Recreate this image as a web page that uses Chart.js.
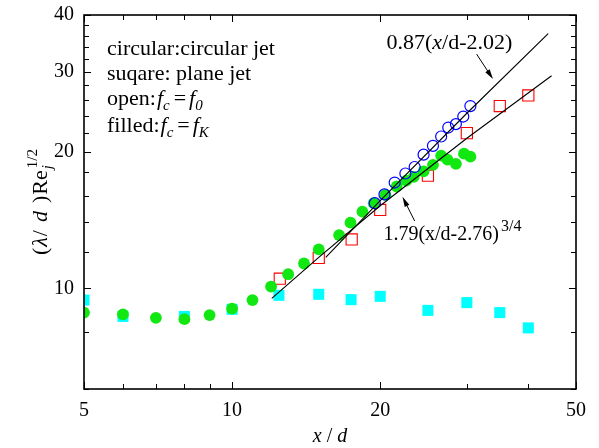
<!DOCTYPE html>
<html>
<head>
<meta charset="utf-8">
<script src="https://cdn.jsdelivr.net/npm/chart.js@4.4.0/dist/chart.umd.min.js"></script>
<style>
  html, body { margin: 0; padding: 0; background: #fff; }
</style>
</head>
<body>
<canvas id="c" width="599" height="448"></canvas>
<script>
// plane jet, f_c = f_K  (filled squares)
const planeKX = [5, 6, 8, 10, 12.45, 15, 17.45, 20, 25, 30, 35, 40];
const planeKY = [9.42, 8.67, 8.67, 8.99, 9.65, 9.70, 9.44, 9.60, 8.94, 9.30, 8.84, 8.18];
// plane jet, f_c = f_0  (open squares)
const plane0X = [12.5, 15, 17.5, 20, 25, 30, 35, 40];
const plane0Y = [10.5, 11.67, 12.81, 14.88, 17.7, 21.97, 25.2, 26.6];
// circular jet, f_c = f_K  (filled circles)
const circKX = [5, 6, 7, 8, 9, 10, 11, 12, 13, 14, 15, 16.5, 17.4, 18.4, 19.4, 20.5, 21.6, 22.6, 23.4, 24.5, 25.6, 26.6, 27.4, 28.5, 29.6, 30.5];
const circKY = [8.84, 8.76, 8.61, 8.55, 8.73, 9.02, 9.42, 10.09, 10.74, 11.34, 12.18, 13.1, 13.95, 14.75, 15.4, 16.06, 16.76, 17.26, 17.6, 18.1, 18.7, 19.6, 19.2, 18.8, 19.8, 19.5];
// circular jet, f_c = f_0  (open circles)
const circ0X = [19.5, 20.4, 21.4, 22.5, 23.5, 24.5, 25.6, 26.6, 27.5, 28.5, 29.5, 30.5];
const circ0Y = [15.4, 16.1, 17.1, 17.9, 18.5, 19.7, 20.6, 21.6, 22.6, 23.0, 23.9, 25.2];
// fit lines
const fitAX = [15.5, 20, 30, 43.9];
const fitAY = [11.7, 15.6, 24.3, 36.4];
const fitBX = [12.04, 15, 20, 30, 44.6];
const fitBY = [9.5, 11.7, 15.2, 21.4, 29.4];

const xTicks = [5, 6, 7, 8, 9, 10, 20, 30, 40, 50];
const xLabels = [5, 10, 20, 50];
const yTicks = [6, 8, 10, 12, 14, 16, 18, 20, 22, 24, 26, 28, 30, 32, 34, 36, 38, 40];
const yLabels = [10, 20, 30, 40];

const SERIF = "'Liberation Serif', 'DejaVu Serif', serif";
const F = (sz, it) => (it ? 'italic ' : '') + sz + 'px ' + SERIF;

const pts = (xs, ys) => xs.map((x, i) => ({ x: x, y: ys[i] }));

// draw text runs: [text, font, dy, extraGap, noAdvance]
function runs(ctx, x, y, parts) {
  for (const p of parts) {
    ctx.font = p[1];
    x += p[3] || 0;
    ctx.fillText(p[0], x, y + (p[2] || 0));
    if (!p[4]) x += ctx.measureText(p[0]).width;
  }
  return x;
}

function arrow(ctx, x1, y1, x2, y2) {
  const a = Math.atan2(y2 - y1, x2 - x1);
  const hl = 10, hw = 2.6;
  ctx.beginPath();
  ctx.moveTo(x1, y1);
  ctx.lineTo(x2 - Math.cos(a) * hl * 0.8, y2 - Math.sin(a) * hl * 0.8);
  ctx.stroke();
  ctx.beginPath();
  ctx.moveTo(x2, y2);
  ctx.lineTo(x2 - Math.cos(a) * hl - Math.sin(a) * hw, y2 - Math.sin(a) * hl + Math.cos(a) * hw);
  ctx.lineTo(x2 - Math.cos(a) * hl + Math.sin(a) * hw, y2 - Math.sin(a) * hl - Math.cos(a) * hw);
  ctx.closePath();
  ctx.fill();
}

const decor = {
  id: 'decor',
  afterDraw(chart) {
    const ctx = chart.ctx;
    const a = chart.chartArea;
    const sx = chart.scales.x, sy = chart.scales.y;
    ctx.save();
    ctx.strokeStyle = '#000';
    ctx.fillStyle = '#000';

    // frame
    ctx.lineWidth = 1.6;
    ctx.strokeRect(a.left, a.top, a.right - a.left, a.bottom - a.top);

    // inward ticks on all four sides
    ctx.lineWidth = 1;
    ctx.beginPath();
    xTicks.forEach(v => {
      const px = Math.round(sx.getPixelForValue(v)) + 0.5;
      const len = xLabels.includes(v) ? 7 : 5;
      ctx.moveTo(px, a.bottom); ctx.lineTo(px, a.bottom - len);
      ctx.moveTo(px, a.top); ctx.lineTo(px, a.top + len);
    });
    yTicks.forEach(v => {
      const py = Math.round(sy.getPixelForValue(v)) + 0.5;
      const len = yLabels.includes(v) ? 7 : 5;
      ctx.moveTo(a.left, py); ctx.lineTo(a.left + len, py);
      ctx.moveTo(a.right, py); ctx.lineTo(a.right - len, py);
    });
    ctx.stroke();

    ctx.textBaseline = 'alphabetic';
    ctx.textAlign = 'left';

    // legend notes
    const lx = a.left + 23;
    runs(ctx, lx, a.top + 40, [['circular:circular jet', F(22)]]);
    runs(ctx, lx, a.top + 65, [['suqare: plane jet', F(22)]]);
    runs(ctx, lx, a.top + 90, [
      ['open:', F(22)], ['f', F(22, true), 0, 1], ['c', F(15, true), 5],
      ['=', F(22), 0, 4], ['f', F(22, true), 0, 3], ['0', F(15, true), 5]
    ]);
    runs(ctx, lx, a.top + 117, [
      ['filled:', F(22)], ['f', F(22, true), 0, 1], ['c', F(15, true), 5],
      ['=', F(22), 0, 4], ['f', F(22, true), 0, 3], ['K', F(15, true), 5]
    ]);

    // fit labels
    runs(ctx, sx.getPixelForValue(20.6), sy.getPixelForValue(33.6), [
      ['0.87(', F(22)], ['x', F(22, true)], ['/d-2.02)', F(22)]
    ]);
    runs(ctx, sx.getPixelForValue(20.3), sy.getPixelForValue(12.77), [
      ['1.79(x/d-2.76)', F(20)], ['3/4', F(16), -9, 2]
    ]);

    // arrows
    ctx.lineWidth = 1;
    arrow(ctx, sx.getPixelForValue(31.4), sy.getPixelForValue(32.8), sx.getPixelForValue(33.9), sy.getPixelForValue(28.9));
    arrow(ctx, sx.getPixelForValue(23.5), sy.getPixelForValue(14.07), sx.getPixelForValue(22.2), sy.getPixelForValue(15.9));

    // x axis title
    const xt = [['x', F(20, true)], [' / ', F(20)], ['d', F(20, true)]];
    let w = 0;
    xt.forEach(p => { ctx.font = p[1]; w += ctx.measureText(p[0]).width; });
    runs(ctx, (a.left + a.right) / 2 - w / 2, 442, xt);

    // y axis title
    ctx.save();
    ctx.translate(47, 255);
    ctx.rotate(-Math.PI / 2);
    runs(ctx, 0, 0, [
      ['(', F(22)], ['\u03bb', F(22, true), 0, 1], ['/', F(22), 0, 1], ['d', F(22, true), 0, 8],
      [')', F(22), 0, 8], ['Re', F(22), 0, 1], ['j', F(15, true), 5, 1, true], ['1/2', F(15), -10, 1]
    ]);
    ctx.restore();

    ctx.restore();
  }
};

new Chart(document.getElementById('c'), {
  type: 'scatter',
  data: {
    datasets: [
      { label: 'fitA', data: pts(fitAX, fitAY), showLine: true, borderColor: '#000', borderWidth: 1.1, pointRadius: 0, order: 0 },
      { label: 'fitB', data: pts(fitBX, fitBY), showLine: true, borderColor: '#000', borderWidth: 1.1, pointRadius: 0, order: 0 },
      { label: 'circular f0', data: pts(circ0X, circ0Y), pointStyle: 'circle', pointRadius: 5.5, borderColor: '#0000ff', backgroundColor: 'rgba(0,0,0,0)', borderWidth: 1.2, order: 1 },
      { label: 'circular fK', data: pts(circKX, circKY), pointStyle: 'circle', pointRadius: 5.9, borderColor: '#11e811', backgroundColor: '#11e811', borderWidth: 0, order: 2 },
      { label: 'plane f0', data: pts(plane0X, plane0Y), pointStyle: 'rect', pointRadius: 7.9, borderColor: '#ff0000', backgroundColor: 'rgba(0,0,0,0)', borderWidth: 1.1, order: 3 },
      { label: 'plane fK', data: pts(planeKX, planeKY), pointStyle: 'rect', pointRadius: 7.8, borderColor: '#00ffff', backgroundColor: '#00ffff', borderWidth: 0, order: 4 }
    ]
  },
  options: {
    responsive: false,
    animation: false,
    devicePixelRatio: 1,
    clip: 0,
    layout: { padding: { left: 0, right: 23, top: 15, bottom: 0 } },
    plugins: { legend: { display: false }, tooltip: { enabled: false } },
    scales: {
      x: {
        type: 'logarithmic', min: 5, max: 50,
        afterBuildTicks: s => { s.ticks = xTicks.map(v => ({ value: v })); },
        afterFit: s => { s.height = 59; s.paddingLeft = 0; s.paddingRight = 0; },
        grid: { display: false, drawTicks: false },
        border: { display: false },
        ticks: {
          autoSkip: false, maxRotation: 0, padding: 10, color: '#000',
          font: { family: SERIF, size: 20 },
          callback: v => xLabels.includes(v) ? String(v) : ''
        }
      },
      y: {
        type: 'logarithmic', min: 6, max: 40,
        afterBuildTicks: s => { s.ticks = yTicks.map(v => ({ value: v })); },
        afterFit: s => { s.width = 84; s.paddingTop = 0; s.paddingBottom = 0; },
        grid: { display: false, drawTicks: false },
        border: { display: false },
        ticks: {
          autoSkip: false, padding: 10, color: '#000',
          font: { family: SERIF, size: 20 },
          callback: v => yLabels.includes(v) ? String(v) : ''
        }
      }
    }
  },
  plugins: [decor]
});
</script>
</body>
</html>
